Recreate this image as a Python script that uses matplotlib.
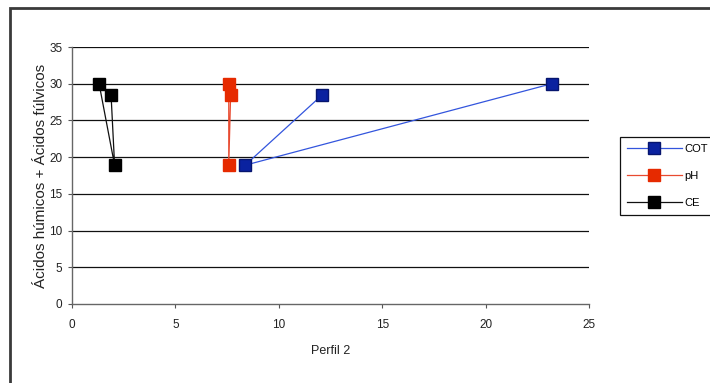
import matplotlib
matplotlib.use("Agg")
import matplotlib.pyplot as plt
from matplotlib.patches import Rectangle
from matplotlib.lines import Line2D

# Perfil 2: each variable vs. humic + fulvic acids
series_names = ["COT", "pH", "CE"]
cot_x = [23.2, 8.37, 12.07]
cot_y = [30.0, 18.9, 28.4]
ph_x = [7.58, 7.58, 7.67]
ph_y = [30.0, 18.9, 28.4]
ce_x = [1.31, 2.06, 1.89]
ce_y = [30.0, 18.9, 28.4]
x_ticks = [0, 5, 10, 15, 20, 25]
y_ticks = [0, 5, 10, 15, 20, 25, 30, 35]

plt.rcParams['font.family'] = ['Liberation Sans', 'DejaVu Sans']

fig = plt.figure(figsize=(7.1, 3.83), dpi=100)
fig.patch.set_facecolor("white")

# outer chart frame
fig.add_artist(Rectangle((10 / 710, -0.05), 1.2, 0.05 + (1 - 8 / 383),
                         transform=fig.transFigure, fill=False,
                         edgecolor="#3a3a3a", linewidth=2.0))

ax = fig.add_axes([72 / 710, 1 - 304 / 383, (589 - 72) / 710, (304 - 47) / 383])
ax.set_xlim(0, 25)
ax.set_ylim(0, 35)
ax.set_xticks(x_ticks)
ax.set_yticks(y_ticks)
ax.tick_params(labelsize=8.5, length=3, width=0.8, color="#555555", direction="out",
               pad=4, labelcolor="#222222")
ax.tick_params(axis="x", pad=8)
for side in ("top", "right"):
    ax.spines[side].set_visible(False)
for side in ("left", "bottom"):
    ax.spines[side].set_color("#666666")
    ax.spines[side].set_linewidth(1.0)

for yv in y_ticks[1:]:
    ax.axhline(yv, color="#111111", linewidth=0.9, zorder=1)

styles = {
    "COT": dict(x=cot_x, y=cot_y, line="#3355dd", mark="#0a22a0", edge="#06156e"),
    "pH": dict(x=ph_x, y=ph_y, line="#e84a30", mark="#e62a00", edge="#e62a00"),
    "CE": dict(x=ce_x, y=ce_y, line="#111111", mark="#000000", edge="#000000"),
}
handles = []
for name in series_names:
    s = styles[name]
    ax.plot(s["x"], s["y"], color=s["line"], linewidth=0.9, zorder=2)
    ax.plot(s["x"], s["y"], linestyle="none", marker="s", markersize=9,
            markerfacecolor=s["mark"], markeredgecolor=s["edge"], zorder=3)
    handles.append(Line2D([], [], color=s["line"], linewidth=0.9, marker="s",
                          markersize=9, markerfacecolor=s["mark"],
                          markeredgecolor=s["edge"]))

ax.set_xlabel("Perfil 2", fontsize=9, color="#222222", labelpad=10)
ax.set_ylabel("Ácidos húmicos + Ácidos fúlvicos", fontsize=11, color="#222222",
              va="center")
ax.yaxis.set_label_coords(-31 / 517, 0.5)

leg = fig.legend(handles, series_names, loc="upper left",
                 bbox_to_anchor=(620 / 710, 1 - 137 / 383),
                 fontsize=8, frameon=True, fancybox=False, handlelength=5.0,
                 handletextpad=0.2, labelspacing=1.55, borderpad=0.6,
                 borderaxespad=0, framealpha=1)
leg.get_frame().set_edgecolor("#111111")
leg.get_frame().set_linewidth(0.9)

fig.savefig("out.png", dpi=100, facecolor="white")
